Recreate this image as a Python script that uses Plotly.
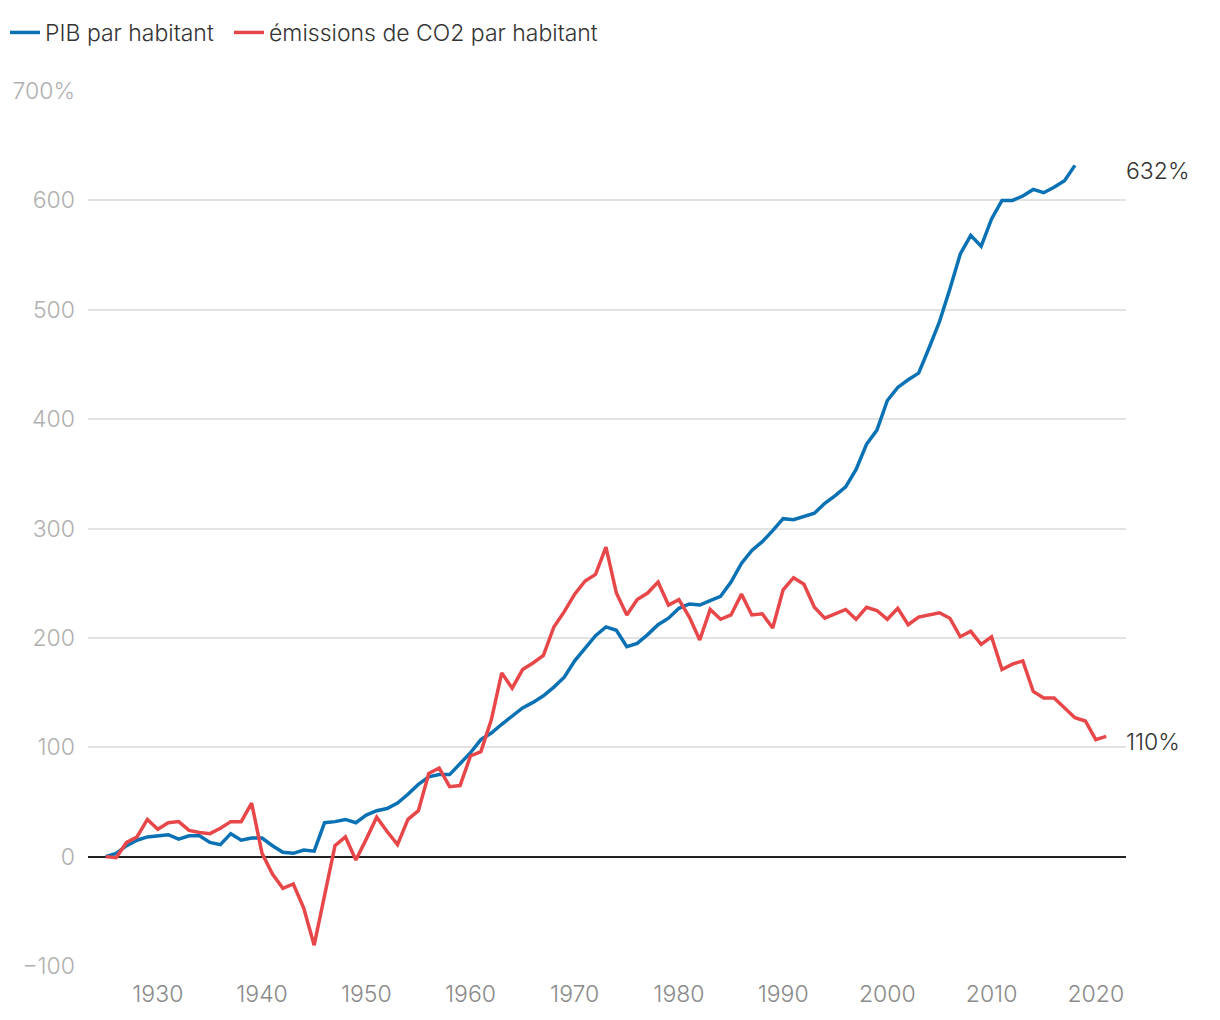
import plotly.graph_objects as go

years_gdp = list(range(1925, 2019))
gdp = [0, 3, 10, 15, 18, 19, 20, 16, 19, 19,
       13, 11, 21, 15, 17, 17, 10, 4, 3, 6,
       5, 31, 32, 34, 31, 38, 42, 44, 49, 57,
       66, 73, 75, 75, 85, 95, 107, 113, 121, 129,
       136, 141, 147, 155, 164, 179, 191, 202, 210, 207,
       192, 195, 203, 212, 218, 227, 231, 230, 234, 238,
       251, 268, 280, 288, 298, 309, 308, 311, 314, 323,
       330, 338, 354, 377, 390, 417, 429, 436, 442, 465,
       489, 519, 551, 568, 558, 583, 600, 600, 604, 610,
       607, 612, 618, 632]

years_co2 = list(range(1925, 2022))
co2 = [0, -1, 13, 18, 34, 25, 31, 32, 24, 22,
       21, 26, 32, 32, 49, 3, -16, -29, -25, -47,
       -81, -35, 10, 18, -3, 16, 36, 23, 11, 34,
       42, 76, 81, 64, 65, 92, 96, 125, 168, 154,
       171, 177, 184, 210, 224, 240, 252, 258, 283, 241,
       221, 235, 241, 251, 230, 235, 219, 198, 226, 217,
       221, 240, 221, 222, 209, 244, 255, 249, 228, 218,
       222, 226, 217, 228, 225, 217, 227, 212, 219, 221,
       223, 218, 201, 206, 194, 201, 171, 176, 179, 151,
       145, 145, 136, 127, 124, 107, 110]

end_labels = ["632%", "110%"]

y_tickvals = [-100, 0, 100, 200, 300, 400, 500, 600, 700]
y_ticktext = ["\u2212100", "0", "100", "200", "300", "400", "500", "600", "700%"]
x_tickvals = [1930, 1940, 1950, 1960, 1970, 1980, 1990, 2000, 2010, 2020]

BLUE = "#0a71b4"
RED = "#e8474a"
FONT = "Inter"
FS = 23

fig = go.Figure()
fig.add_trace(go.Scatter(x=years_gdp, y=gdp, mode="lines", name="PIB par habitant",
                         legendwidth=179, line=dict(color=BLUE, width=3.5)))
fig.add_trace(go.Scatter(x=years_co2, y=co2, mode="lines", name="émissions de CO2 par habitant",
                         legendwidth=380, line=dict(color=RED, width=3.5)))

fig.add_annotation(x=1, xref="paper", y=gdp[-1], yref="y", text=end_labels[0], showarrow=False,
                   xanchor="left", yanchor="middle", yshift=-6, xshift=-2,
                   font=dict(family=FONT, size=FS, color="#333333", weight=300))
fig.add_annotation(x=1, xref="paper", y=co2[-1], yref="y", text=end_labels[1], showarrow=False,
                   xanchor="left", yanchor="middle", yshift=-6, xshift=-2,
                   font=dict(family=FONT, size=FS, color="#333333", weight=300))

fig.update_layout(
    width=1220, height=1020,
    margin=dict(l=88, r=94, t=91, b=52),
    paper_bgcolor="white", plot_bgcolor="white",
    font=dict(family=FONT, size=FS, color="#333333", weight=300),
    showlegend=True,
    legend=dict(orientation="h", x=5 / 1220, y=1 - 11 / 1020, xref="container", yref="container",
                xanchor="left", yanchor="top",
                font=dict(family=FONT, size=FS, color="#333333", weight=300),
                itemwidth=30, tracegroupgap=0, bgcolor="rgba(0,0,0,0)"),
    xaxis=dict(range=[1923.3, 2022.9], tickvals=x_tickvals, showgrid=False, zeroline=False,
               showline=False, ticks="", ticklabelstandoff=12,
               tickfont=dict(family=FONT, size=FS, color="#8a8a8a", weight=300), fixedrange=True),
    yaxis=dict(range=[-100, 700], tickvals=y_tickvals, ticktext=y_ticktext, showgrid=True,
               gridcolor="#e3e3e3", gridwidth=1.5, zeroline=True, zerolinecolor="#222222",
               zerolinewidth=1.5, showline=False, ticks="", ticklabelstandoff=12,
               tickfont=dict(family=FONT, size=FS, color="#b0b0b0", weight=300), fixedrange=True),
)

fig.write_html("out.html")
